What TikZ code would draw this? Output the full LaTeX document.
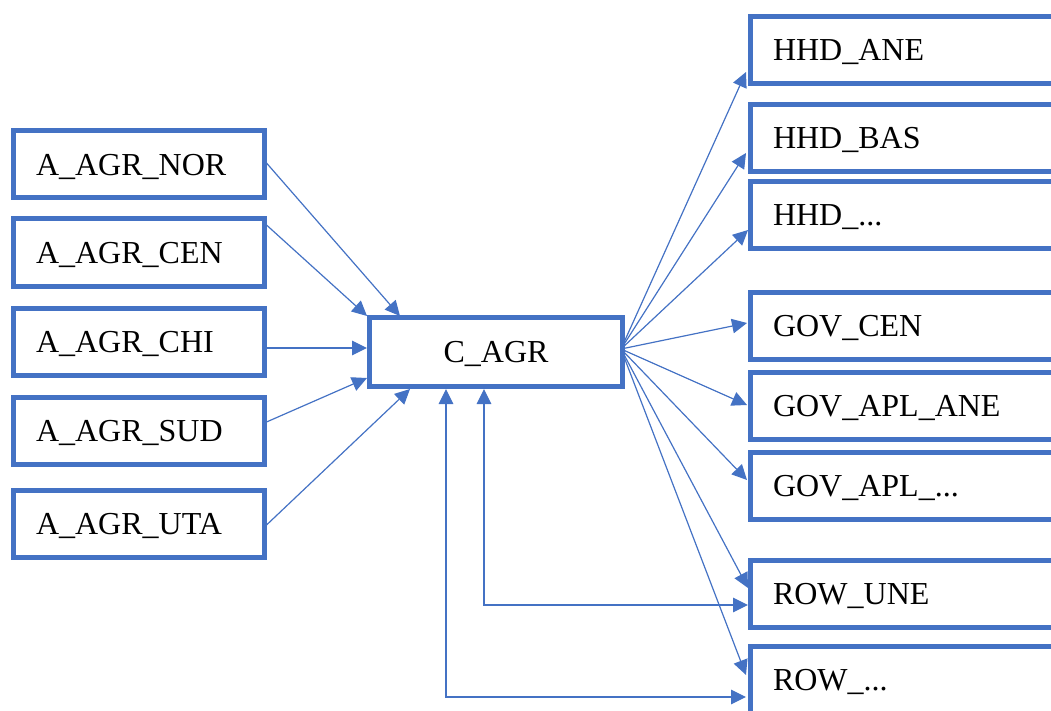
\documentclass[tikz,border=0pt]{standalone}
\usepackage{fontspec}
\setmainfont{Liberation Serif}
\usetikzlibrary{arrows.meta,calc}
\definecolor{officeblue}{HTML}{4472C4}
\tikzset{
  box/.style={draw=officeblue, line width=5pt, fill=white, rectangle,
    minimum height=67pt, inner xsep=22.5pt, inner ysep=0pt,
    text height=21.5pt, text depth=0pt,
    font=\fontsize{32}{38}\selectfont, align=left},
  lbox/.style={box, text width=205.5pt},
  cbox/.style={box, minimum width=253pt, minimum height=69pt, align=center},
  rbox/.style={box, text width=324.5pt},
  link/.style={draw=officeblue, line width=1.2pt, -{Triangle[length=15pt,width=14.5pt]}},
  twoway/.style={draw=officeblue, line width=1.2pt,
    {Triangle[length=15pt,width=14.5pt]}-{Triangle[length=15pt,width=14.5pt]}},
}
\begin{document}
\begin{tikzpicture}[x=1pt,y=-1pt]
  \useasboundingbox (0,0) rectangle (1051,711);
  \clip (0,0) rectangle (1051,711);

  % activities on the left
  \node[lbox] (nor) at (138.75,164.5) {A\_AGR\_NOR};
  \node[lbox] (cen) at (138.75,252.5) {A\_AGR\_CEN};
  \node[lbox] (chi) at (138.75,342)   {A\_AGR\_CHI};
  \node[lbox] (sud) at (138.75,431)   {A\_AGR\_SUD};
  \node[lbox] (uta) at (138.75,523.5) {A\_AGR\_UTA};

  % commodity in the middle
  \node[cbox] (cagr) at (496,352) {C\_AGR};

  % institutions on the right
  \node[rbox] (hane) at (935.25,50)    {HHD\_ANE};
  \node[rbox] (hbas) at (935.25,138)   {HHD\_BAS};
  \node[rbox] (hdot) at (935.25,215)   {HHD\_...};
  \node[rbox] (gcen) at (935.25,326)   {GOV\_CEN};
  \node[rbox] (gane) at (935.25,406)   {GOV\_APL\_ANE};
  \node[rbox] (gdot) at (935.25,486)   {GOV\_APL\_...};
  \node[rbox] (rune) at (935.25,593.5) {ROW\_UNE};
  \node[rbox] (rdot) at (935.25,679.5) {ROW\_...};

  % supply of the commodity by the activities
  \draw[link] ($(nor.east)+(0,-1.5)$) -- ($(cagr.north west)+(33,1)$);
  \draw[link] ($(cen.east)+(0,-27.5)$) -- ($(cagr.north west)+(0,1)$);
  \draw[link] (chi.east |- 0,348) -- (cagr.west |- 0,348);
  \draw[link] ($(sud.east)+(0,-9)$) -- ($(cagr.south west)+(0,-11)$);
  \draw[link] ($(uta.east)+(0,1.5)$) -- ($(cagr.south west)+(43,0)$);

  % demand for the commodity by the institutions
  \coordinate (fan) at ($(cagr.east)+(-4,-3)$);
  \draw[link] (fan) -- ($(hane.west)+(-2,22)$);
  \draw[link] (fan) -- ($(hbas.west)+(-2,15)$);
  \draw[link] (fan) -- ($(hdot.west)+(0,15)$);
  \draw[link] (fan) -- ($(gcen.west)+(-1,-3)$);
  \draw[link] (fan) -- ($(gane.west)+(-1,-1)$);
  \draw[link] (fan) -- ($(gdot.west)+(-1,-6)$);
  \draw[link] (fan) -- ($(rune.west)+(0,-5.5)$);
  \draw[link] (fan) -- ($(rdot.west)+(-2,-4.5)$);

  % trade with the rest of the world
  \draw[twoway] (cagr.south -| 484,0) -- (484,605) -- (rune.west |- 0,605);
  \draw[twoway] (cagr.south -| 446,0) -- (446,697) -- ($(rdot.west |- 0,697)+(-2,0)$);
\end{tikzpicture}
\end{document}
